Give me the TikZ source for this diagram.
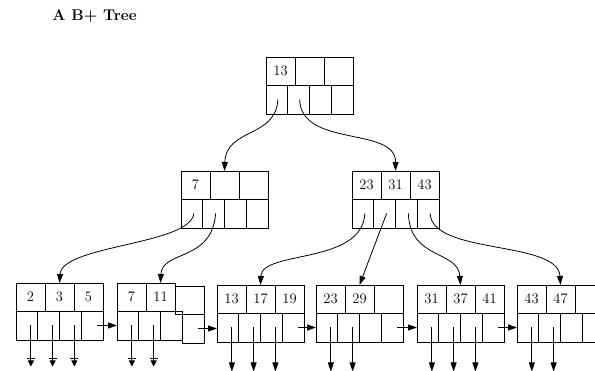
\documentclass[tikz,border=0pt]{standalone}
\usepackage{tikz}
\usetikzlibrary{arrows.meta}

\tikzset{
  keycell/.style={draw, anchor=north west, minimum width=29pt, minimum height=28pt, inner sep=0pt, outer sep=0pt},
  ptrcell/.style={draw, anchor=north west, minimum width=21.75pt, minimum height=29pt, inner sep=0pt, outer sep=0pt},
  link/.style={-{Triangle[length=9pt,width=6pt]}},
  nil/.style={-{Bar[width=8pt,sep=1.5pt]Triangle[length=6pt,width=6pt]}},
}

% one B+ tree node: 3 keys on top, 4 pointers below
% #1 drop of the last column, #2 name, #3 x, #4 y, #5 keys
\newcommand{\bpnode}[5][0]{%
  \foreach \k [count=\i] in {#5}{
    \pgfmathsetmacro{\dy}{(\i==3)*#1}
    \node[keycell] (#2-k\i) at ({#3+(\i-1)*29},{#4+\dy}) {\k};
  }
  \foreach \i in {1,...,4}{
    \pgfmathsetmacro{\dy}{(\i==4)*#1}
    \node[ptrcell] (#2-p\i) at ({#3+(\i-1)*21.75},{#4+28+\dy}) {};
  }
}

\begin{document}
\begin{tikzpicture}[x=1pt, y=-1pt, line width=0.8pt, font=\fontsize{14.5}{16}\selectfont]
  \useasboundingbox (0,0) rectangle (595,371);
  \node[anchor=base west, inner sep=0pt, font=\fontsize{15.5}{17}\selectfont\bfseries] (title) at (52,21) {A B+ Tree};

  % inner nodes
  \bpnode{root}{266}{57}{13,{},{}}
  \bpnode{left}{181}{171}{7,{},{}}
  \bpnode{right}{352}{171}{23,31,43}
  % leaves
  \bpnode{leafa}{16}{283}{2,3,5}
  \bpnode[3]{leafb}{117}{283}{7,11,{}}
  \bpnode{leafc}{217}{285}{13,17,19}
  \bpnode{leafd}{316}{285}{23,29,{}}
  \bpnode{leafe}{417}{285}{31,37,41}
  \bpnode{leaff}{517}{285}{43,47,{}}

  % tree pointers
  \draw[link] ([xshift=1pt]root-p1.center) .. controls (276,138) and (226,128) .. (left-k2.north);
  \draw[link] ([xshift=1pt]root-p2.center) .. controls (301,148) and (396,126) .. (right-k2.north);
  \draw[link] ([xshift=2pt]left-p1.center) .. controls (190,245) and (62,245) .. (leafa-k2.north);
  \draw[link] ([xshift=2pt]left-p2.center) .. controls (212,262) and (162,250) .. (leafb-k2.north);
  \draw[link] ([xshift=2pt]right-p1.center) .. controls (362,265) and (262,250) .. (leafc-k2.north);
  \draw[link] ([xshift=2pt]right-p2.center) -- (leafd-k2.north);
  \draw[link] ([xshift=2pt]right-p3.center) .. controls (410,260) and (458,250) .. (leafe-k2.north);
  \draw[link] ([xshift=2pt]right-p4.center) .. controls (432,255) and (558,240) .. (leaff-k2.north);

  % leaf chain
  \foreach \a/\b in {leafa/leafb, leafb/leafc, leafc/leafd, leafd/leafe, leafe/leaff}
    \draw[link] ([xshift=5pt]\a-p4.center) -- (\a-p4.center -| \b-p1.west);

  % record pointers
  \foreach \leaf/\n in {leafa/3, leafb/2}
    \foreach \i in {1,...,\n}
      \draw[nil] ([xshift=4pt]\leaf-p\i.center) -- ++(0,41);
  \foreach \leaf/\n in {leafc/3, leafd/2, leafe/3, leaff/2}
    \foreach \i in {1,...,\n}
      \draw[link] ([xshift=4pt]\leaf-p\i.center) -- ++(0,44);
\end{tikzpicture}
\end{document}
